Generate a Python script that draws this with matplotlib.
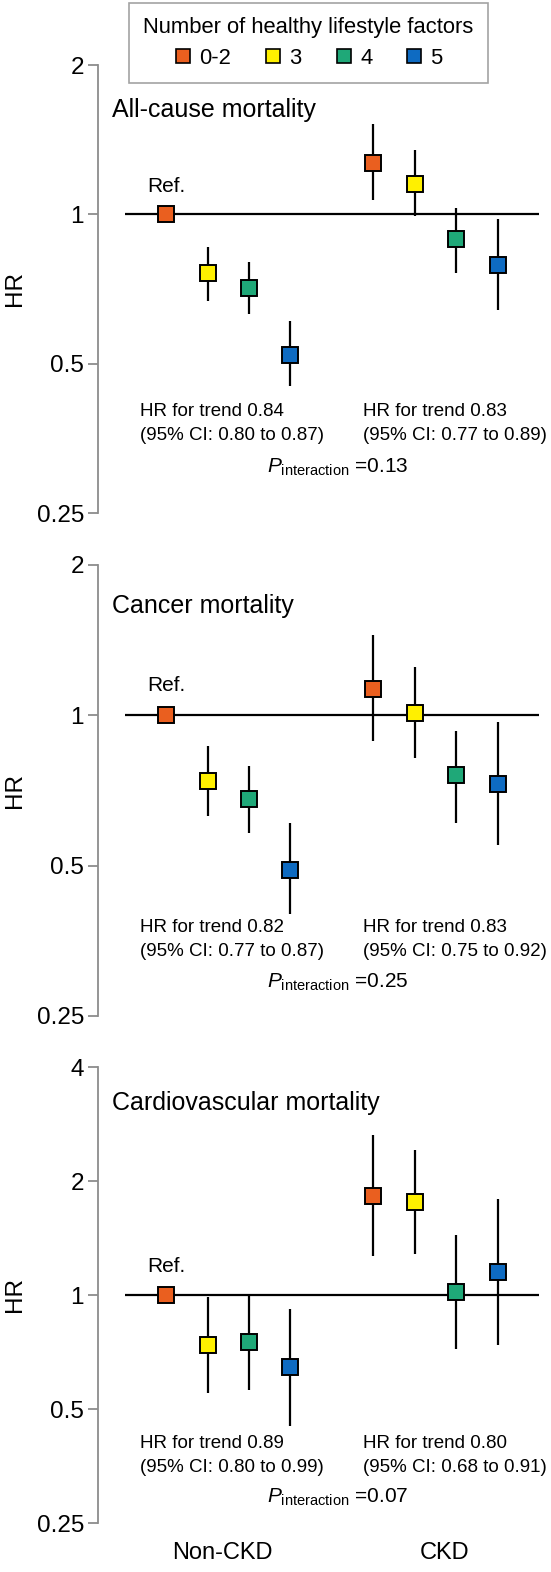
import matplotlib
matplotlib.use("Agg")
import matplotlib.pyplot as plt
from matplotlib.lines import Line2D
from matplotlib.ticker import FixedLocator, FixedFormatter, NullLocator

plt.rcParams['font.family'] = ['Liberation Sans', 'DejaVu Sans']
plt.rcParams['mathtext.fontset'] = 'custom'
plt.rcParams['mathtext.rm'] = 'Liberation Sans'
plt.rcParams['mathtext.it'] = 'Liberation Sans:italic'

# ---------------- data ----------------
levels = ['0-2', '3', '4', '5']
colors = ['#EA5F1F', '#FFF000', '#1FA878', '#0E6BC2']
groups = ['Non-CKD', 'CKD']

# all-cause mortality
allcause_hr_nonckd = [1.00, 0.76, 0.71, 0.52]
allcause_lo_nonckd = [1.00, 0.67, 0.63, 0.45]
allcause_hi_nonckd = [1.00, 0.86, 0.80, 0.61]
allcause_hr_ckd = [1.27, 1.15, 0.89, 0.79]
allcause_lo_ckd = [1.07, 0.99, 0.76, 0.64]
allcause_hi_ckd = [1.52, 1.35, 1.03, 0.98]

# cancer mortality
cancer_hr_nonckd = [1.00, 0.74, 0.68, 0.49]
cancer_lo_nonckd = [1.00, 0.63, 0.58, 0.40]
cancer_hi_nonckd = [1.00, 0.87, 0.79, 0.61]
cancer_hr_ckd = [1.13, 1.01, 0.76, 0.73]
cancer_lo_ckd = [0.89, 0.82, 0.61, 0.55]
cancer_hi_ckd = [1.45, 1.25, 0.93, 0.97]

# cardiovascular mortality
cvd_hr_nonckd = [1.00, 0.74, 0.75, 0.645]
cvd_lo_nonckd = [1.00, 0.55, 0.56, 0.45]
cvd_hi_nonckd = [1.00, 0.99, 1.00, 0.92]
cvd_hr_ckd = [1.83, 1.76, 1.02, 1.15]
cvd_lo_ckd = [1.27, 1.28, 0.72, 0.74]
cvd_hi_ckd = [2.64, 2.41, 1.44, 1.79]

titles = ['All-cause mortality', 'Cancer mortality', 'Cardiovascular mortality']
trend_nonckd = [('0.84', '0.80', '0.87'), ('0.82', '0.77', '0.87'), ('0.89', '0.80', '0.99')]
trend_ckd = [('0.83', '0.77', '0.89'), ('0.83', '0.75', '0.92'), ('0.80', '0.68', '0.91')]
p_interaction = ['0.13', '0.25', '0.07']
yticks = [[0.25, 0.5, 1, 2], [0.25, 0.5, 1, 2], [0.25, 0.5, 1, 2, 4]]
yticklabels = [['0.25', '0.5', '1', '2'], ['0.25', '0.5', '1', '2'],
               ['0.25', '0.5', '1', '2', '4']]

panels = [
    (allcause_hr_nonckd, allcause_lo_nonckd, allcause_hi_nonckd,
     allcause_hr_ckd, allcause_lo_ckd, allcause_hi_ckd),
    (cancer_hr_nonckd, cancer_lo_nonckd, cancer_hi_nonckd,
     cancer_hr_ckd, cancer_lo_ckd, cancer_hi_ckd),
    (cvd_hr_nonckd, cvd_lo_nonckd, cvd_hi_nonckd,
     cvd_hr_ckd, cvd_lo_ckd, cvd_hi_ckd),
]

# ---------------- layout (pixels) ----------------
W, H = 551, 1572
fig = plt.figure(figsize=(W / 100, H / 100), dpi=100)

def fx(px):
    return px / W

def fy(py):
    return 1 - py / H

axis_top = [65, 565, 1067]
axis_bot = [513, 1016, 1523]
title_y = [110, 606, 1103]
ref_y = [187, 686, 1266]
trend_y = [412, 928, 1444]
pint_y = [467, 982, 1497]

x_nonckd = [0, 1, 2, 3]
x_ckd = [5, 6, 7, 8]
spine_color = '#8c8c8c'

for k in range(3):
    hr_n, lo_n, hi_n, hr_c, lo_c, hi_c = panels[k]
    ax = fig.add_axes([fx(98), fy(axis_bot[k]), fx(W - 98),
                       (axis_bot[k] - axis_top[k]) / H])
    ax.set_yscale('log')
    ax.set_ylim(yticks[k][0], yticks[k][-1])
    ax.set_xlim(-1.64, 9.28)

    for s in ['top', 'right', 'bottom']:
        ax.spines[s].set_visible(False)
    ax.spines['left'].set_color(spine_color)
    ax.spines['left'].set_linewidth(1.3)
    ax.xaxis.set_major_locator(NullLocator())
    ax.yaxis.set_minor_locator(NullLocator())
    ax.yaxis.set_major_locator(FixedLocator(yticks[k]))
    ax.yaxis.set_major_formatter(FixedFormatter(yticklabels[k]))
    ax.tick_params(axis='y', which='major', length=7, width=1.3,
                   color=spine_color, labelsize=17.5, pad=3)
    ax.set_ylabel('HR', fontsize=17.5, labelpad=8)
    ax.patch.set_alpha(0)

    # reference line at HR = 1
    ax.hlines(1, -1, 9, color='black', lw=1.6, zorder=1)

    for i in range(4):
        xs = [x_nonckd[i], x_ckd[i]]
        ys = [hr_n[i], hr_c[i]]
        lows = [lo_n[i], lo_c[i]]
        highs = [hi_n[i], hi_c[i]]
        ax.vlines(xs, lows, highs, color='black', lw=1.6, zorder=2)
        ax.plot(xs, ys, linestyle='none', marker='s', markersize=11,
                markerfacecolor=colors[i], markeredgecolor='black',
                markeredgewidth=1.4, zorder=3, clip_on=False)

    fig.text(fx(112), fy(title_y[k]), titles[k], fontsize=18,
             ha='left', va='center')
    fig.text(fx(166), fy(ref_y[k]), 'Ref.', fontsize=15,
             ha='center', va='center')
    for xl, t in [(140, trend_nonckd[k]), (363, trend_ckd[k])]:
        fig.text(fx(xl), fy(trend_y[k]), 'HR for trend ' + t[0],
                 fontsize=13.5, ha='left', va='center')
        fig.text(fx(xl), fy(trend_y[k] + 23),
                 '(95% CI: ' + t[1] + ' to ' + t[2] + ')',
                 fontsize=13.5, ha='left', va='center')
    fig.text(fx(338), fy(pint_y[k]),
             r'$P_{\mathrm{interaction}}$ =' + p_interaction[k],
             fontsize=15, ha='center', va='center')

# group labels
fig.text(fx(222), fy(1553), groups[0], fontsize=17, ha='center', va='center')
fig.text(fx(445), fy(1553), groups[1], fontsize=17, ha='center', va='center')

# legend
handles = [Line2D([], [], linestyle='none', marker='s', markersize=10,
                  markerfacecolor=c, markeredgecolor='black',
                  markeredgewidth=1.2) for c in colors]
leg = fig.legend(handles, levels, ncol=4,
                 title='Number of healthy lifestyle factors',
                 loc='center', bbox_to_anchor=(fx(308.5), fy(43)),
                 fontsize=15.8, title_fontsize=15.8, frameon=True,
                 fancybox=False, edgecolor='#8c8c8c', handlelength=0.8,
                 handletextpad=0.35, columnspacing=1.5, borderpad=0.65,
                 labelspacing=0.45)
leg.get_frame().set_linewidth(1.2)

fig.savefig('out.png', dpi=100)
